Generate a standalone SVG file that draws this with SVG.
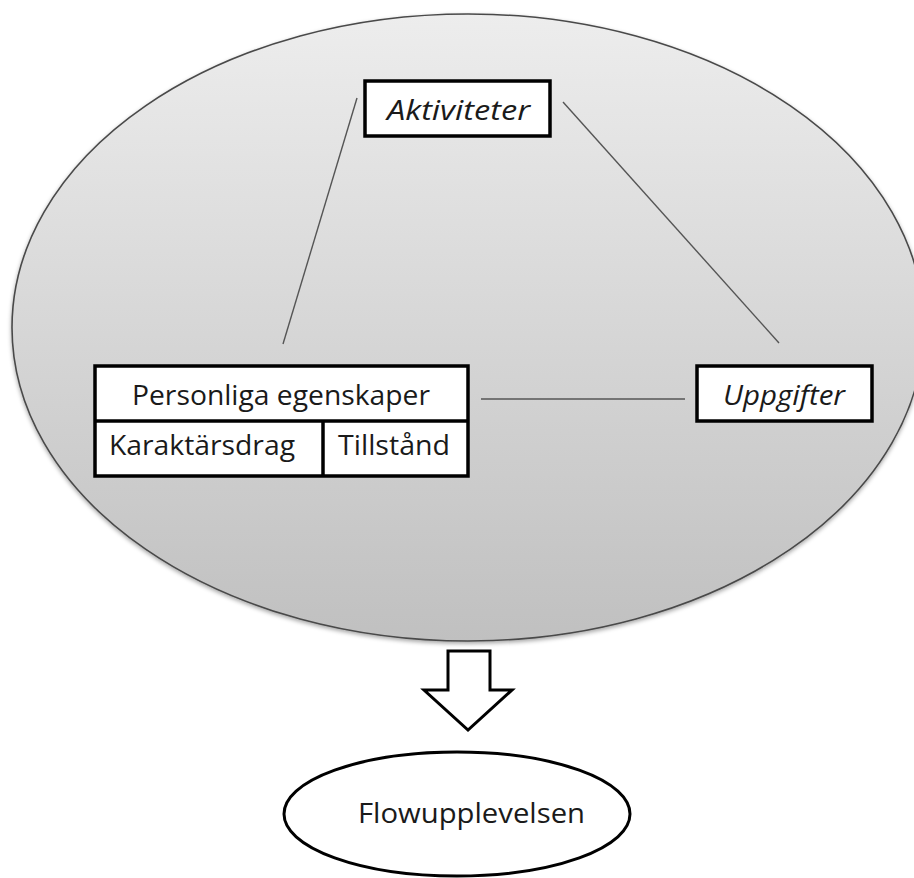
<svg xmlns="http://www.w3.org/2000/svg" width="914" height="878" viewBox="0 0 914 878">
  <defs>
    <linearGradient id="bigFill" x1="0" y1="0" x2="0" y2="1">
      <stop offset="0" stop-color="#ededed"/>
      <stop offset="1" stop-color="#c0c0c0"/>
    </linearGradient>
    <filter id="softShadow" x="-5%" y="-5%" width="110%" height="112%">
      <feDropShadow dx="0" dy="2" stdDeviation="2" flood-color="#000" flood-opacity="0.35"/>
    </filter>
  </defs>
  <style>
    .box { fill: #ffffff; stroke: #000000; stroke-width: 3.5; }
    .link { stroke: #555555; stroke-width: 1.4; fill: none; }
    .lbl { font-family: "Open Sans", "Noto Sans", "Liberation Sans", sans-serif; font-size: 28px; fill: #1a1a1a; }
    .it { font-style: italic; }
  </style>

  <rect x="0" y="0" width="914" height="878" fill="#ffffff"/>

  <!-- outer context ellipse -->
  <g id="context">
    <ellipse cx="468" cy="327.5" rx="456" ry="313.5" fill="url(#bigFill)" stroke="#4a4a4a" stroke-width="1.6" filter="url(#softShadow)"/>
  </g>

  <!-- connectors -->
  <g id="connectors">
    <line class="link" x1="357" y1="98" x2="283" y2="344"/>
    <line class="link" x1="563" y1="102" x2="779" y2="343"/>
    <line class="link" x1="481" y1="399" x2="685" y2="399"/>
  </g>

  <g id="aktiviteter">
    <rect class="box" x="365" y="81" width="185" height="55"/>
    <text class="lbl it" x="458.5" y="120" text-anchor="middle" textLength="143" lengthAdjust="spacingAndGlyphs">Aktiviteter</text>
  </g>

  <g id="personliga">
    <rect class="box" x="95" y="366" width="373" height="110"/>
    <line x1="95" y1="421" x2="468" y2="421" stroke="#000" stroke-width="3.5"/>
    <line x1="323" y1="421" x2="323" y2="476" stroke="#000" stroke-width="3.5"/>
    <text class="lbl" x="281" y="405" text-anchor="middle" textLength="298" lengthAdjust="spacingAndGlyphs">Personliga egenskaper</text>
    <text class="lbl" x="202" y="455" text-anchor="middle" textLength="186" lengthAdjust="spacingAndGlyphs">Karaktärsdrag</text>
    <text class="lbl" x="394" y="455" text-anchor="middle" textLength="112" lengthAdjust="spacingAndGlyphs">Tillstånd</text>
  </g>

  <g id="uppgifter">
    <rect class="box" x="697" y="366" width="175" height="55"/>
    <text class="lbl it" x="784" y="405" text-anchor="middle" textLength="122" lengthAdjust="spacingAndGlyphs">Uppgifter</text>
  </g>

  <!-- block arrow down to the outcome -->
  <g id="arrow">
    <polygon points="448,651 490,651 490,690 512,690 468,730 424,690 448,690" fill="#ffffff" stroke="#000" stroke-width="3" stroke-linejoin="miter"/>
  </g>

  <g id="flow">
    <ellipse cx="457" cy="814" rx="173" ry="62" fill="#ffffff" stroke="#000" stroke-width="3"/>
    <text class="lbl" x="471.5" y="823" text-anchor="middle" textLength="227" lengthAdjust="spacingAndGlyphs">Flowupplevelsen</text>
  </g>
</svg>
